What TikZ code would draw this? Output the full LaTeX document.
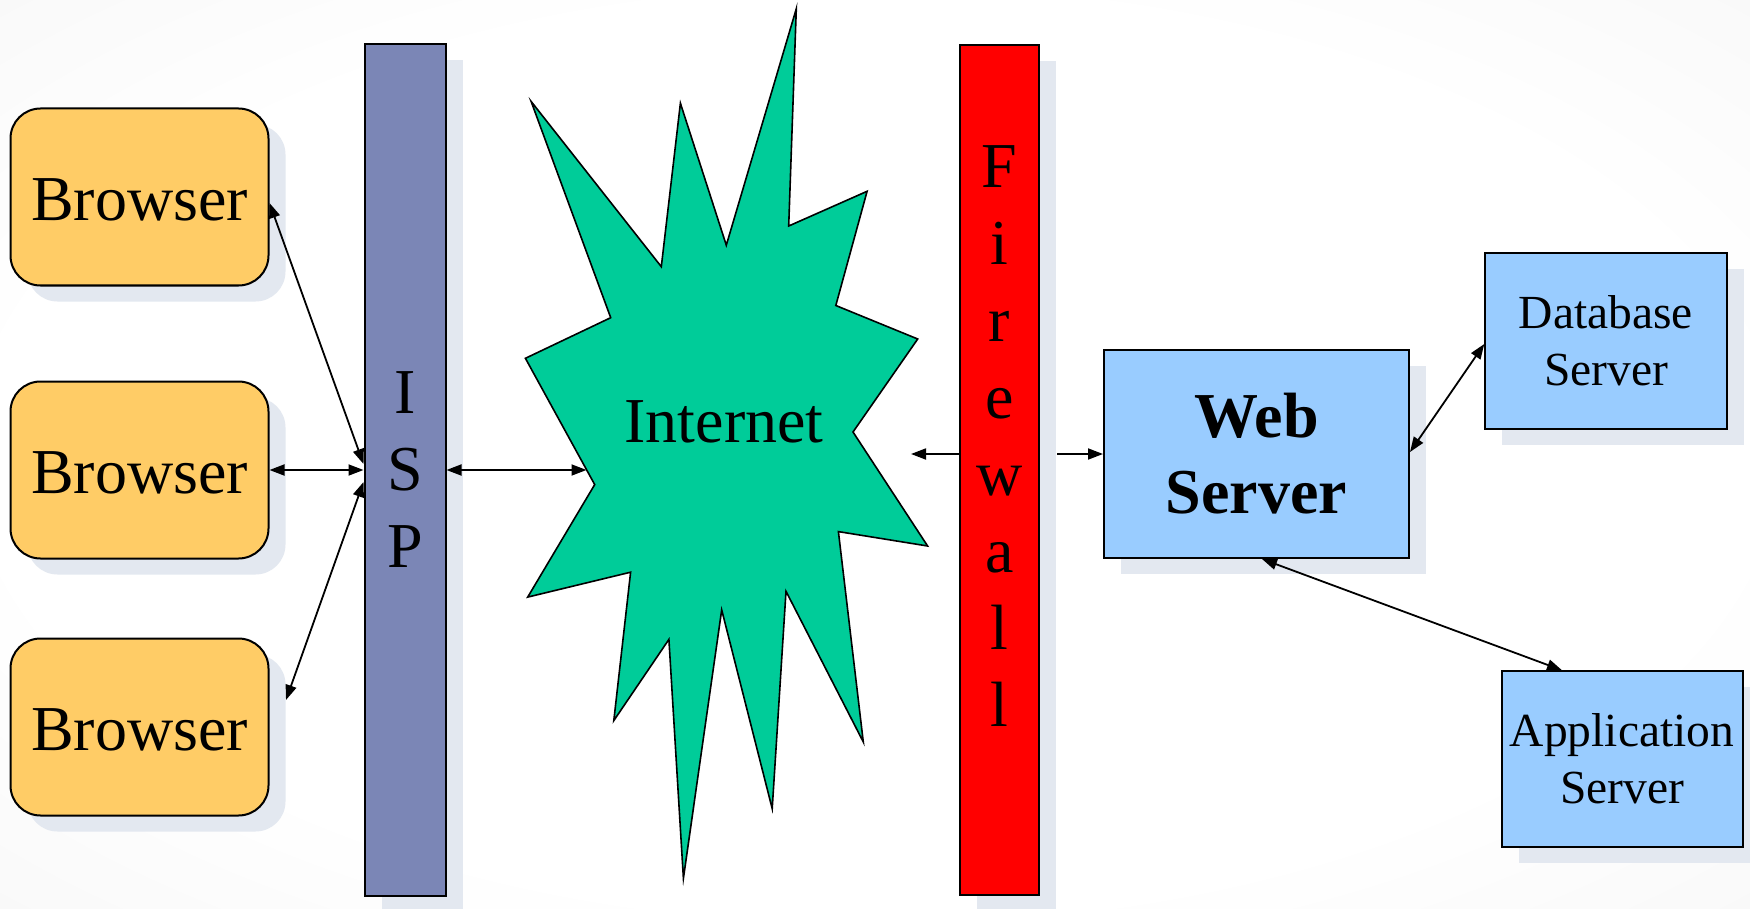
\documentclass[tikz,border=0pt]{standalone}
\usepackage{fontspec}
\setmainfont{Liberation Serif}
\usetikzlibrary{arrows.meta,calc,shadows}
\definecolor{shadowc}{HTML}{E3E8F0}
\definecolor{ispc}{HTML}{7B86B6}
\definecolor{browserc}{HTML}{FFCC66}
\definecolor{starc}{HTML}{00CC99}
\definecolor{serverc}{HTML}{99CCFF}
\definecolor{fwc}{HTML}{FF0000}
\pgfdeclareradialshading{bgshade}{\pgfpoint{0bp}{0bp}}{color(0bp)=(white); color(25bp)=(white); color(70bp)=(black!10); color(72bp)=(black!10)}
\begin{document}
\begin{tikzpicture}[x=1pt,y=-1pt,
  bigfont/.style={font=\fontsize{64}{77}\selectfont},
  smallfont/.style={font=\fontsize{47.5}{57}\selectfont},
  shad/.style={general shadow={fill=shadowc,shadow xshift=17pt,shadow yshift=-16pt}},
  box/.style={draw=black,line width=2pt,inner sep=0pt,shad},
  browser/.style={box,fill=browserc,rounded corners=30pt,minimum width=258pt,minimum height=177pt,bigfont,text height=47pt},
  bar/.style={box,minimum width=81pt,minimum height=851pt,bigfont,align=center},
  server/.style={box,fill=serverc,align=center},
  conn/.style={line width=1.8pt,{Triangle[length=15pt,width=11pt]}-{Triangle[length=15pt,width=11pt]}},
  oneway/.style={line width=1.8pt,-{Triangle[length=15pt,width=11pt]}}
]
\useasboundingbox (0,0) rectangle (1750,909);
\shade[shading=bgshade] (0,0) rectangle (1750,909);

% browsers
\node[browser] (b1) at (139.5,197) {Browser};
\node[browser] (b2) at (139.5,470) {Browser};
\node[browser] (b3) at (139.5,727) {Browser};

% ISP bar
\node[bar,fill=ispc] (isp) at (405,470) {I\\S\\P};

% firewall
\node[bar,fill=fwc,minimum width=79pt,minimum height=850pt] (fw) at (999.5,470) {};
\node[bigfont,align=center,inner sep=0pt] (fwtext) at (999.5,436) {F\\i\\r\\e\\w\\a\\l\\l};

% internet starburst
\filldraw[fill=starc,draw=black,line width=1.6pt,line join=miter]
  (796.3,8.7) -- (788.7,226) -- (867.1,191.3) -- (835.8,305.5) -- (917.7,339)
  -- (853,432) -- (927.6,546) -- (838.4,531.6) -- (863.3,742) -- (786,591.3)
  -- (772.2,808.7) -- (721.7,609.9) -- (683.4,878.3) -- (668.9,639.4)
  -- (613.8,720.6) -- (630.6,572.2) -- (527.7,597.1) -- (594.7,484.6)
  -- (525.4,358.3) -- (610.7,317.7) -- (531.1,101.4) -- (661.3,266.7)
  -- (680.4,103.2) -- (726.3,245.2) -- cycle;
\node[bigfont,inner sep=0pt] (inet) at (724,422) {Internet};

% servers
\node[server,minimum width=305pt,minimum height=208pt,font=\bfseries\fontsize{64}{76}\selectfont] (ws) at (1256.5,454) {Web\\Server};
\node[server,minimum width=241.5pt,minimum height=176.5pt,smallfont] (db) at (1606,341) {Database\\Server};
\node[server,minimum width=241pt,minimum height=175.5pt,smallfont] (app) at (1622,759) {Application\\Server};

% connectors
\draw[conn] ($(b1.east)+(0,6)$) -- ($(isp.west)+(0,-6)$);
\draw[conn] (b2.east) -- (isp.west);
\draw[conn] ($(isp.west)+(0,12)$) -- ($(b3.east)+(16.5,-27)$);
\coordinate (starL) at (586.5,470);
\draw[conn] (isp.east) -- (starL);
\coordinate (fwout) at (911,454);
\draw[oneway] ($(fw.west)+(0,-16)$) -- (fwout);
\coordinate (fwin) at (1057,454);
\draw[oneway] (fwin) -- (ws.west);
\draw[conn] ($(ws.east)+(0,-2)$) -- ($(db.west)+(0,3)$);
\draw[conn] ($(ws.south)+(5.5,0)$) -- ($(app.north)+(-60,0)$);
\end{tikzpicture}
\end{document}
